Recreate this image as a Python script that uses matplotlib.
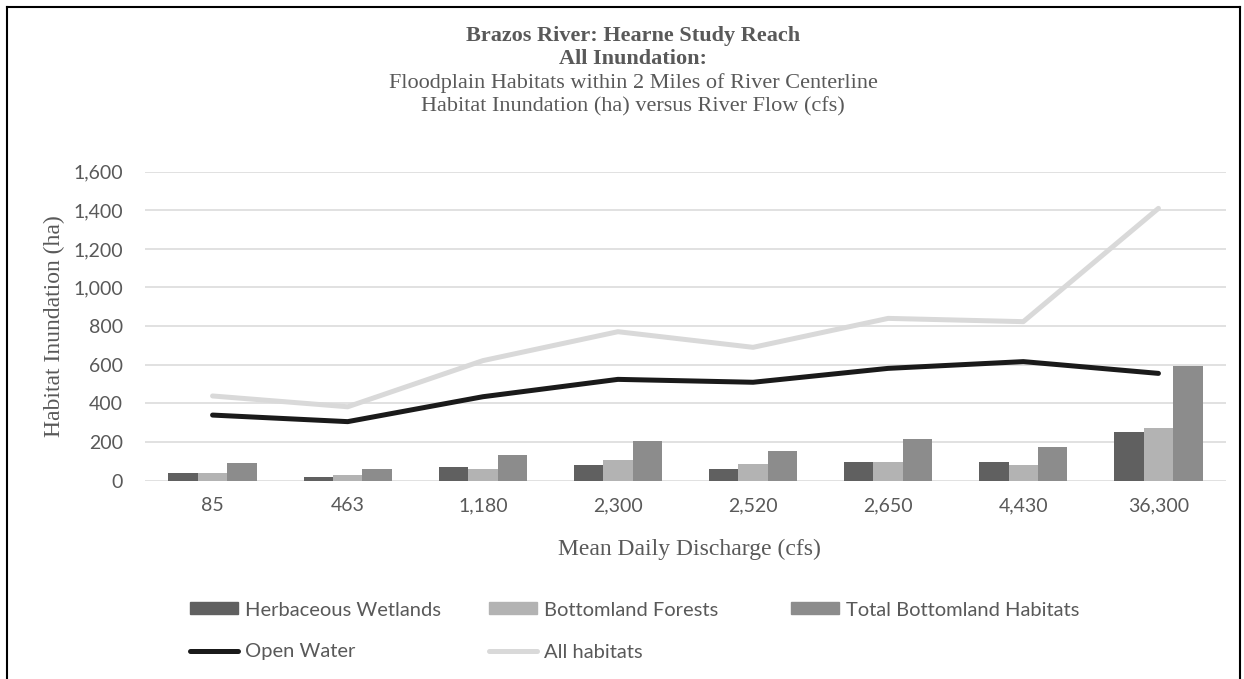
import matplotlib.pyplot as plt
import numpy as np
from matplotlib.lines import Line2D
from matplotlib.patches import Patch
from matplotlib.ticker import FuncFormatter

# data
discharge = ['85', '463', '1,180', '2,300', '2,520', '2,650', '4,430', '36,300']
herbaceous = [41, 20, 68, 79, 58, 97, 97, 250]
bottomland = [41, 30, 58, 106, 85, 97, 79, 270]
total_bottomland = [89, 60, 134, 203, 154, 213, 174, 593]
open_water = [339, 305, 434, 524, 509, 581, 616, 555]
all_habitats = [438, 382, 621, 771, 690, 840, 823, 1410]

W, H = 1244, 679
grey_txt = '#595959'
sans = 'Lato'
serif = 'Liberation Serif'

fig = plt.figure(figsize=(W / 100, H / 100), dpi=100)
ax = fig.add_axes([145 / W, 1 - 480.5 / H, (1226 - 145) / W, (480.5 - 171.7) / H])

x = np.arange(len(discharge))
bw = 0.218
ax.bar(x - bw, herbaceous, bw, color='#606060', zorder=2)
ax.bar(x, bottomland, bw, color='#b3b3b3', zorder=2)
ax.bar(x + bw, total_bottomland, bw, color='#8c8c8c', zorder=2)
ax.plot(x, open_water, color='#1a1a1a', lw=3.6, solid_capstyle='round', solid_joinstyle='round', zorder=3)
ax.plot(x, all_habitats, color='#d9d9d9', lw=3.6, solid_capstyle='round', solid_joinstyle='round', zorder=3)

ax.set_xlim(-0.5, 7.5)
ax.set_ylim(0, 1600)
ax.set_yticks(range(0, 1601, 200))
ax.yaxis.set_major_formatter(FuncFormatter(lambda v, p: f'{int(v):,}'))
ax.set_xticks(x)
ax.set_xticklabels(discharge)
ax.grid(axis='y', color='#d9d9d9', lw=1.1)
ax.set_axisbelow(True)
for s in ax.spines.values():
    s.set_visible(False)
ax.tick_params(axis='both', length=0, labelsize=14, labelcolor=grey_txt)
ax.tick_params(axis='y', pad=16)
ax.tick_params(axis='x', pad=12)
for lab in ax.get_xticklabels() + ax.get_yticklabels():
    lab.set_fontfamily(sans)

# titles
title_lines = [('Brazos River: Hearne Study Reach', 'bold'),
               ('All Inundation:', 'bold'),
               ('Floodplain Habitats within 2 Miles of River Centerline', 'normal'),
               ('Habitat Inundation (ha) versus River Flow (cfs)', 'normal')]
for i, (t, wgt) in enumerate(title_lines):
    fig.text(633 / W, 1 - (36 + 23.5 * i) / H, t, ha='center', va='center',
             fontsize=16, fontweight=wgt, family=serif, color=grey_txt)

fig.text(689 / W, 1 - 549 / H, 'Mean Daily Discharge (cfs)', ha='center', va='center',
         fontsize=17, family=serif, color=grey_txt)
fig.text(54 / W, 1 - 326 / H, 'Habitat Inundation (ha)', ha='center', va='center',
         rotation=90, fontsize=17, family=serif, color=grey_txt)

# legend entries placed like the original layout
fs = 14.5
fs_px = fs * 100 / 72
entries = [
    (Patch(color='#606060'), 'Herbaceous Wetlands', 190, 610),
    (Patch(color='#b3b3b3'), 'Bottomland Forests', 489, 610),
    (Patch(color='#8c8c8c'), 'Total Bottomland Habitats', 791, 610),
    (Line2D([], [], color='#1a1a1a', lw=3.6, solid_capstyle='round'), 'Open Water', 190, 652),
    (Line2D([], [], color='#d9d9d9', lw=3.6, solid_capstyle='round'), 'All habitats', 489, 652),
]
for h, lab, px, py in entries:
    fig.legend([h], [lab], loc='center left', bbox_to_anchor=(px / W, 1 - py / H),
               frameon=False, borderpad=0, borderaxespad=0,
               handlelength=48 / fs_px, handletextpad=7 / fs_px, handleheight=0.55,
               prop={'family': sans, 'size': fs}, labelcolor=grey_txt)

# black frame of the chart area
for xs, ys in [([7, 7], [679, 7]), ([7, 1240], [7, 7]), ([1240, 1240], [7, 679])]:
    fig.add_artist(Line2D([v / W for v in xs], [1 - v / H for v in ys],
                          transform=fig.transFigure, color='black', lw=1.5))

fig.savefig('out.png', dpi=100)
